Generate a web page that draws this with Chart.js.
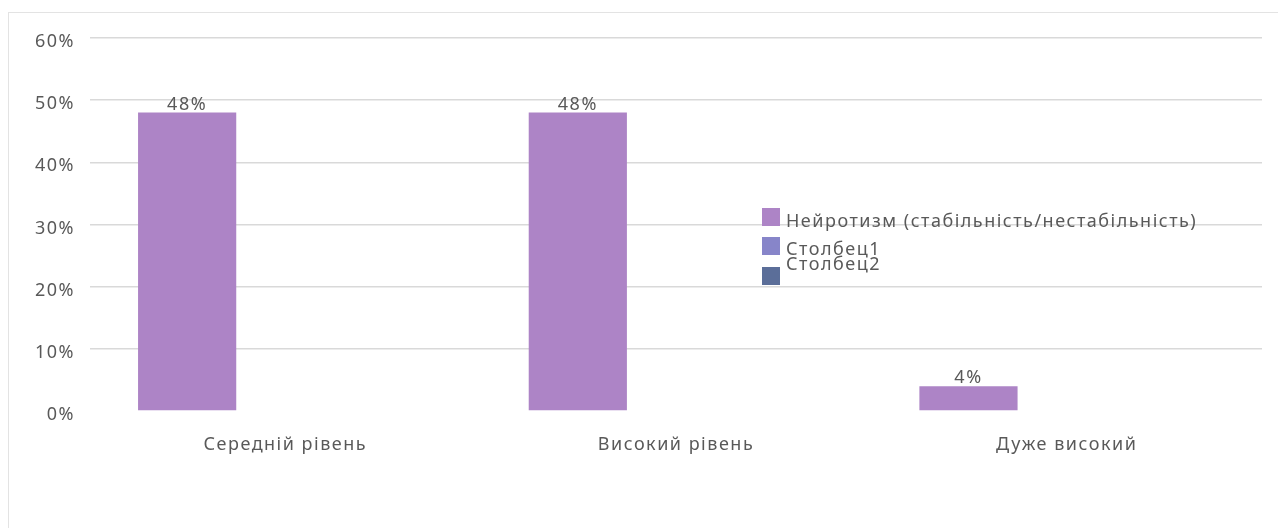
<!DOCTYPE html>
<html>
<head>
<meta charset="utf-8">
<script src="https://cdn.jsdelivr.net/npm/chart.js@4"></script>
<style>
  html, body { margin: 0; padding: 0; background: #fff; }
  #wrap { position: relative; width: 1278px; height: 528px; overflow: hidden; }
  #frame { position: absolute; left: 8px; top: 12px; width: 1290px; height: 540px; border: 1px solid #e3e3e3; }
  canvas { position: absolute; left: 0; top: 0; }
  .leg { position: absolute; font: 18px "Noto Sans", sans-serif; letter-spacing: 1.5px; color: #595959; white-space: nowrap; }
  .sw { position: absolute; width: 18px; height: 18px; }
</style>
</head>
<body>
<div id="wrap">
  <div id="frame"></div>
  <canvas id="chart" width="1278" height="528"></canvas>
  <div class="sw" style="left:762px;top:208px;background:#ad84c6"></div>
  <div class="leg" style="left:786px;top:208px">Нейротизм (стабільність/нестабільність)</div>
  <div class="sw" style="left:762px;top:237px;background:#8785c9"></div>
  <div class="leg" style="left:786px;top:236px">Столбец1</div>
  <div class="sw" style="left:762px;top:267px;background:#5b6e99"></div>
  <div class="leg" style="left:786px;top:251px">Столбец2</div>
</div>
<script>
const categories = ['Середній рівень', 'Високий рівень', 'Дуже високий'];
const seriesNames = ['Нейротизм (стабільність/нестабільність)', 'Столбец1', 'Столбец2'];
const neurotism = [0.48, 0.48, 0.04];
const stovpets1 = [null, null, null];
const stovpets2 = [null, null, null];
const yTicks = [0, 0.1, 0.2, 0.3, 0.4, 0.5, 0.6];

const COLORS = ['#ad84c6', '#8785c9', '#5b6e99'];
const TEXT = '#595959';
const FONT = { family: '"Noto Sans", sans-serif', size: 18 };

const pct = v => Math.round(v * 100) + '%';

// wider letter spacing, like the original renderer
const spacing = {
  id: 'spacing',
  beforeDraw(chart) { chart.ctx.letterSpacing = '1.5px'; },
};

const valueLabels = {
  id: 'valueLabels',
  afterDatasetsDraw(chart) {
    const ctx = chart.ctx;
    ctx.save();
    ctx.fillStyle = TEXT;
    ctx.font = '18px "Noto Sans", sans-serif';
    ctx.textAlign = 'center';
    ctx.textBaseline = 'bottom';
    chart.getDatasetMeta(0).data.forEach((bar, i) => {
      ctx.fillText(pct(neurotism[i]), bar.x, bar.y + 1);
    });
    ctx.restore();
  },
};

new Chart(document.getElementById('chart'), {
  type: 'bar',
  data: {
    labels: categories,
    datasets: [neurotism, stovpets1, stovpets2].map((d, i) => ({
      label: seriesNames[i],
      data: d,
      backgroundColor: COLORS[i],
      borderWidth: 0,
      categoryPercentage: 0.754,
      barPercentage: 1,
    })),
  },
  options: {
    responsive: false, animation: false,
    layout: { padding: { top: 38, right: 16, left: 0, bottom: 0 } },
    plugins: { legend: { display: false }, tooltip: { enabled: false } },
    scales: {
      x: {
        grid: { display: false },
        border: { display: false },
        ticks: { color: TEXT, font: FONT, padding: 15, maxRotation: 0 },
        afterFit: s => { s.height = 117; },
      },
      y: {
        min: 0, max: 0.6,
        afterBuildTicks: s => { s.ticks = yTicks.map(v => ({ value: v })); },
        grid: { color: c => c.tick.value === 0 ? 'rgba(0,0,0,0)' : '#d9d9d9', drawTicks: false, lineWidth: 1.5 },
        border: { display: false },
        ticks: { color: TEXT, font: FONT, padding: 15, labelOffset: 4, callback: v => pct(v) },
        afterFit: s => { s.width = 90; },
      },
    },
  },
  plugins: [spacing, valueLabels],
});
</script>
</body>
</html>
